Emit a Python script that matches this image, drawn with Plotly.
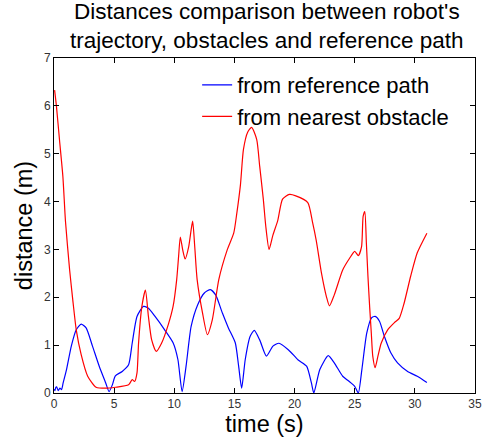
import plotly.graph_objects as go

# from reference path (blue)
t_ref = [0.0, 0.08, 0.15, 0.22, 0.35, 0.49, 0.63, 0.76, 1.04, 1.44, 1.85, 2.26, 2.67, 3.2, 3.76, 4.3, 4.58,
         4.85, 5.1, 5.67, 6.2, 6.5, 6.9, 7.44, 7.85, 8.4, 9.2, 9.9, 10.3, 10.65, 10.98, 11.4, 11.94,
         12.5, 13.0, 13.44, 14.0, 14.5, 15.07, 15.35, 15.6, 15.9, 16.3, 16.65, 17.1, 17.66, 18.2,
         18.7, 19.5, 20.3, 21.0, 21.4, 21.6, 22.1, 22.8, 23.3, 24.0, 24.5, 25.0, 25.3, 25.6, 26.0,
         26.4, 26.7, 27.06, 27.47, 28.0, 28.56, 29.4, 30.2, 31.0]
d_ref = [0.08, 0.05, 0.12, 0.13, 0.05, 0.1, 0.07, 0.21, 0.49, 0.98, 1.32, 1.44, 1.36, 0.98, 0.56, 0.21, 0.03,
         0.17, 0.36, 0.45, 0.59, 1.04, 1.6, 1.81, 1.77, 1.6, 1.32, 1.05, 0.7, 0.03, 0.56, 1.39, 1.84,
         2.09, 2.16, 2.05, 1.67, 1.36, 1.05, 0.56, 0.1, 0.7, 1.18, 1.31, 1.11, 0.77, 0.98,
         1.04, 0.9, 0.69, 0.56, 0.21, 0.0, 0.49, 0.78, 0.63, 0.35, 0.25, 0.14, 0.0, 0.5, 1.25,
         1.57, 1.6, 1.5, 1.18, 0.84, 0.63, 0.45, 0.35, 0.22]

# from nearest obstacle (red)
t_obs = [0.05, 0.2, 0.46, 0.74, 0.95, 1.3, 1.58, 1.85, 2.26, 2.8, 3.5, 4.3, 5.1, 6.2, 6.5, 6.7, 6.9,
         7.03, 7.3, 7.6, 7.85, 8.12, 8.5, 8.94, 9.5, 9.9, 10.2, 10.36, 10.5, 10.7, 10.9, 11.2, 11.4,
         11.53, 11.7, 11.9, 12.35, 12.75, 13.16, 13.7, 14.4, 14.94, 15.2, 15.5, 15.75, 16.1, 16.43,
         16.85, 17.1, 17.4, 17.6, 17.88, 18.2, 18.6, 19.0, 19.57, 20.1, 21.1, 21.5, 21.8, 22.24,
         22.65, 22.9, 23.3, 24.0, 24.56, 25.0, 25.3, 25.57, 25.7, 25.84, 25.97, 26.1, 26.24, 26.38,
         26.5, 26.7, 26.93, 27.2, 27.74, 28.3, 28.7, 29.1, 29.65, 30.2, 31.0]
d_obs = [6.33, 6.0, 5.28, 4.52, 3.6, 2.57, 1.9, 1.32, 0.8, 0.35, 0.12, 0.1, 0.12, 0.17, 0.28, 0.24, 0.42,
         1.04, 1.8, 2.15, 1.6, 1.11, 0.87, 1.04, 1.43, 1.81, 2.37, 2.86, 3.26, 2.99, 2.8, 3.06, 3.41,
         3.59, 3.06, 2.37, 1.67, 1.22, 1.53, 2.37, 2.99, 3.34, 3.76, 4.35, 5.09, 5.45, 5.55,
         5.3, 4.74, 4.05, 3.5, 3.0, 3.3, 3.6, 4.05, 4.15, 4.12, 3.98, 3.56, 3.19, 2.5,
         2.01, 1.82, 2.05, 2.57, 2.81, 2.96, 2.87, 3.06, 3.69, 3.79, 3.13, 2.44, 1.81, 1.25,
         0.77, 0.53, 0.77, 1.04, 1.32, 1.47, 1.56, 1.87, 2.44, 2.93, 3.34]

x_ticks = [0, 5, 10, 15, 20, 25, 30, 35]
y_ticks = [0, 1, 2, 3, 4, 5, 6, 7]

title_text = "Distances comparison between robot's<br>trajectory, obstacles and reference path"

FONT = "Liberation Sans, Arial, sans-serif"

fig = go.Figure()
fig.add_trace(go.Scatter(x=t_ref, y=d_ref, mode="lines", name="from reference path",
                         line=dict(color="#0000ff", width=1.2, shape="spline", smoothing=0.6)))
fig.add_trace(go.Scatter(x=t_obs, y=d_obs, mode="lines", name="from nearest obstacle",
                         line=dict(color="#ff0000", width=1.2, shape="spline", smoothing=0.6)))

axis_common = dict(showline=True, linecolor="black", linewidth=1, mirror="ticks",
                   ticks="inside", ticklen=5, tickcolor="black", showgrid=False, zeroline=False,
                   tickfont=dict(family=FONT, size=12, color="#333333"))

fig.update_layout(
    width=493, height=442, autosize=False,
    margin=dict(l=54, r=11, t=58, b=49),
    paper_bgcolor="white", plot_bgcolor="white",
    xaxis=dict(range=[0, 35], tickvals=x_ticks, **axis_common,
               title=dict(text="time (s)", font=dict(family=FONT, size=23.5, color="black"), standoff=3)),
    yaxis=dict(range=[0, 7], tickvals=y_ticks, **axis_common,
               title=dict(text="distance (m)", font=dict(family=FONT, size=23.5, color="black"), standoff=4)),
    legend=dict(x=0.34, y=0.982, xanchor="left", yanchor="top", bgcolor="rgba(0,0,0,0)",
                font=dict(family=FONT, size=22, color="black"), itemwidth=30, tracegroupgap=0),
    showlegend=True,
    annotations=[
        dict(text=title_text, xref="paper", yref="paper", x=0.505, y=(393 - 26) / 335,
             xanchor="center", yanchor="middle", showarrow=False, align="center",
             font=dict(family=FONT, size=22.5, color="black")),
    ],
)

fig.write_html("out.html")
